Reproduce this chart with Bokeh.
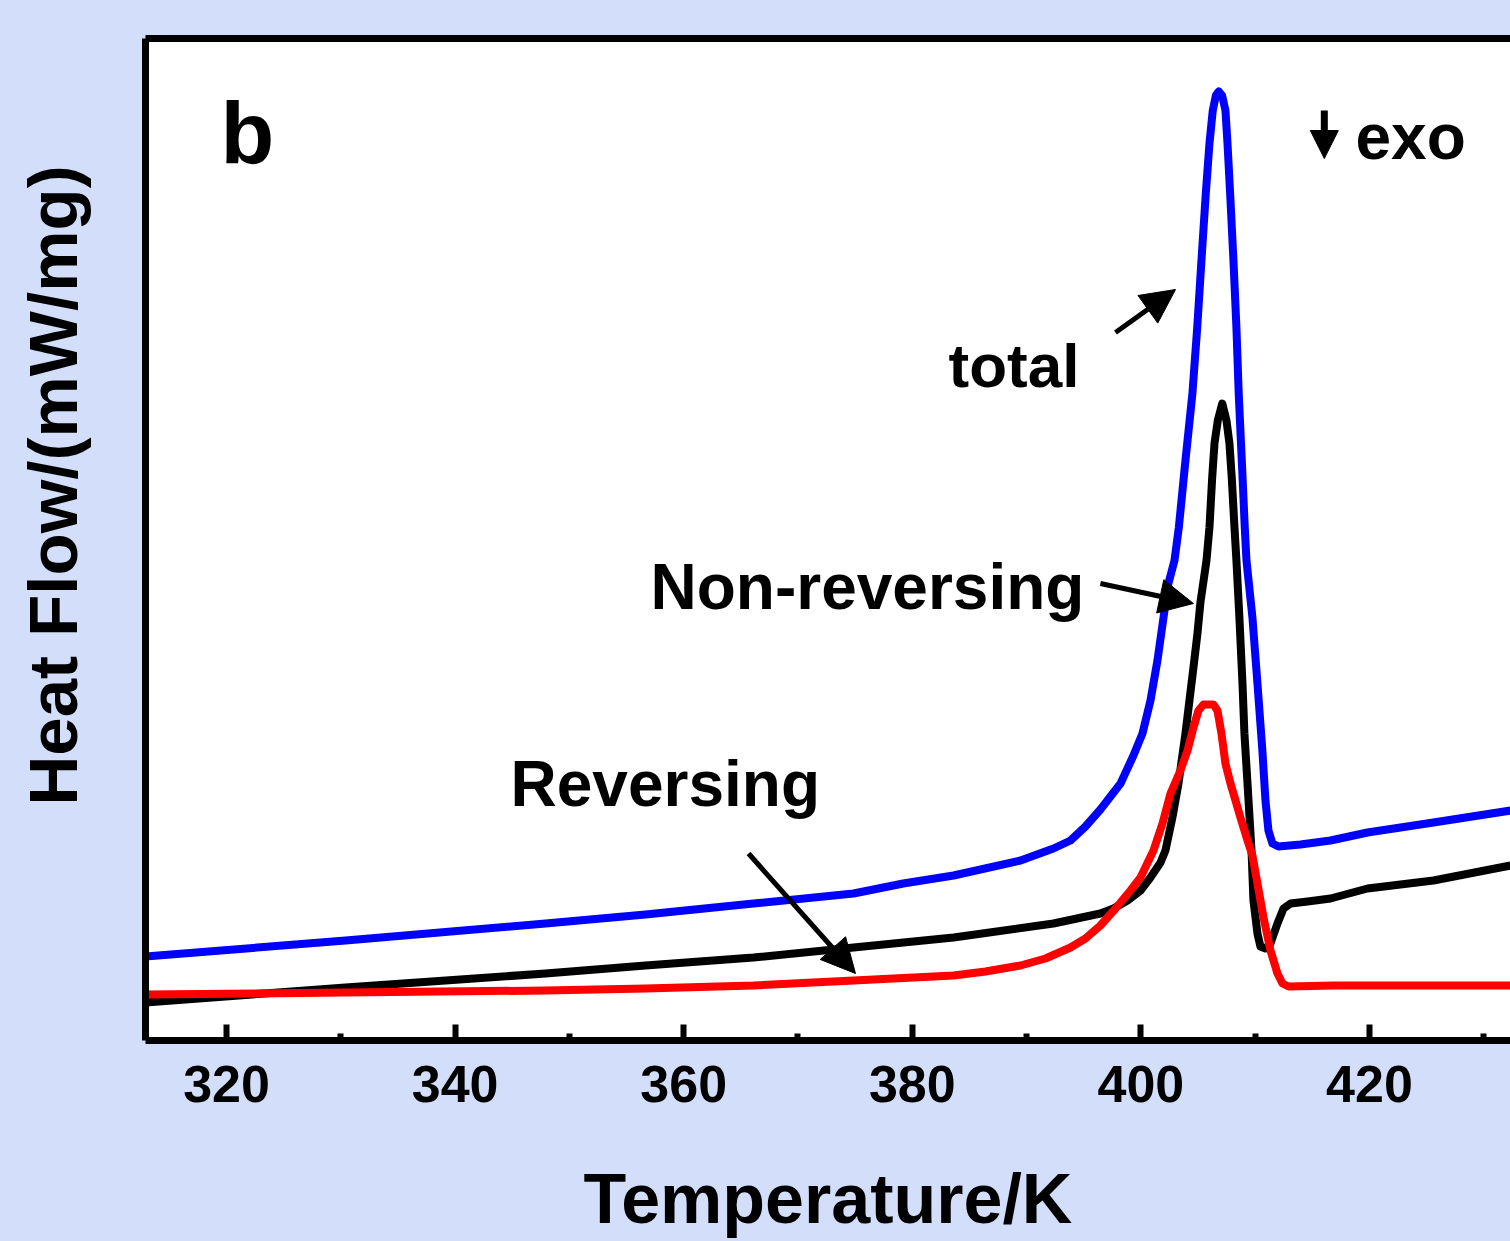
from bokeh.plotting import figure
from bokeh.models import Range1d, LinearAxis, FixedTicker, Label, Arrow, NormalHead, Title
from bokeh.embed import file_html
from bokeh.resources import INLINE

# ---- data (temperature in K, heat flow in arbitrary mW/mg units) ----
total_T = [312.91, 330.41, 347.91, 356.66, 366.11, 374.86, 379.20, 383.61, 389.47,
           392.35, 393.84, 395.15, 396.46, 398.22, 399.35, 400.14, 400.84, 401.45,
           401.98, 402.41, 402.94, 403.32, 403.90, 404.51, 404.93, 405.30, 405.68,
           406.00, 406.29, 406.56, 406.82, 407.11, 407.40, 407.58, 407.81, 408.10,
           408.36, 408.56, 408.83, 409.09, 409.24, 409.76, 410.20, 410.63, 410.90,
           411.16, 411.51, 412.04, 413.96, 416.59, 419.83, 425.60, 432.34]
total_HF = [0.84, 1.00, 1.17, 1.26, 1.37, 1.47, 1.57, 1.65, 1.80,
            1.92, 2.00, 2.14, 2.31, 2.57, 2.85, 3.07, 3.40, 3.80,
            4.23, 4.57, 4.80, 5.13, 5.80, 6.47, 7.13, 7.80, 8.47,
            8.97, 9.30, 9.45, 9.49, 9.45, 9.30, 8.97, 8.47, 7.80,
            7.13, 6.47, 5.80, 5.13, 4.80, 4.23, 3.57, 2.90, 2.40,
            2.10, 1.97, 1.94, 1.96, 2.00, 2.08, 2.18, 2.30]

nonrev_T = [312.91, 330.41, 347.91, 356.66, 366.11, 374.86, 383.61, 392.35, 396.46,
            397.60, 398.83, 399.97, 400.84, 401.72, 402.15, 402.76, 403.29, 403.90,
            404.25, 404.60, 404.95, 405.21, 405.74, 406.00, 406.24, 406.44, 406.73,
            407.12, 407.49, 407.75, 407.95, 408.19, 408.36, 408.62, 408.89, 409.06,
            409.33, 409.68, 409.85, 410.20, 410.46, 410.90, 411.34, 411.95, 412.48,
            413.10, 414.59, 416.59, 419.83, 425.60, 432.34]
nonrev_HF = [0.38, 0.53, 0.67, 0.75, 0.83, 0.93, 1.03, 1.17, 1.27,
             1.32, 1.40, 1.50, 1.63, 1.78, 1.90, 2.23, 2.57, 3.07,
             3.40, 3.73, 4.07, 4.38, 4.80, 5.13, 5.63, 5.97, 6.20,
             6.37, 6.20, 5.97, 5.63, 5.13, 4.80, 4.23, 3.57, 3.07,
             2.57, 1.90, 1.40, 1.07, 0.94, 0.92, 0.97, 1.17, 1.32,
             1.37, 1.39, 1.42, 1.52, 1.60, 1.75]

rev_T = [312.91, 330.41, 347.91, 356.66, 366.11, 374.86, 383.61, 386.40, 389.47,
         391.65, 393.84, 395.15, 396.46, 397.78, 399.09, 399.97, 401.10, 401.89,
         402.59, 403.46, 404.08, 404.60, 405.04, 405.48, 406.35, 406.70, 407.05,
         407.40, 407.84, 408.28, 408.71, 409.33, 409.76, 410.20, 410.73, 411.34,
         411.95, 412.39, 412.92, 416.85, 432.34]
rev_HF = [0.46, 0.48, 0.50, 0.52, 0.55, 0.60, 0.65, 0.69, 0.75,
          0.82, 0.93, 1.02, 1.15, 1.32, 1.50, 1.63, 1.90, 2.17,
          2.47, 2.70, 2.90, 3.13, 3.30, 3.36, 3.36, 3.30, 3.07,
          2.77, 2.57, 2.40, 2.23, 2.00, 1.85, 1.57, 1.23, 0.90,
          0.67, 0.57, 0.54, 0.55, 0.55]

x_ticks = [320, 340, 360, 380, 400, 420]
x_minor = [330, 350, 370, 390, 410, 430]

BG = "#d2defa"
FONT = "Liberation Sans"

p = figure(width=1510, height=1241, output_backend="svg", toolbar_location=None,
           x_range=Range1d(312.91, 432.34), y_range=Range1d(0, 10.02),
           min_border_left=145, min_border_right=0, min_border_top=38,
           min_border_bottom=201, x_axis_location="below", y_axis_location="left")
p.border_fill_color = BG
p.background_fill_color = "white"
p.outline_line_color = None
p.grid.visible = False

# bottom axis
xa = p.xaxis[0]
xa.ticker = FixedTicker(ticks=x_ticks, minor_ticks=x_minor)
xa.axis_line_width = 7
xa.axis_line_color = "black"
xa.major_tick_in = 16
xa.major_tick_out = 0
xa.minor_tick_in = 7
xa.minor_tick_out = 0
xa.major_tick_line_width = 6
xa.minor_tick_line_width = 6
xa.major_label_text_font = FONT
xa.major_label_text_font_style = "bold"
xa.major_label_text_font_size = "52px"
xa.major_label_text_color = "black"
xa.major_label_standoff = 25
xa.axis_label = "Temperature/K"
xa.axis_label_text_font = FONT
xa.axis_label_text_font_style = "bold"
xa.axis_label_text_font_size = "70px"
xa.axis_label_text_color = "black"
xa.axis_label_standoff = 55

# left axis (frame line only, invisible spacer label pushes the title outward)
ya = p.yaxis[0]
ya.ticker = FixedTicker(ticks=[])
ya.axis_line_width = 7
ya.axis_line_color = "black"
ya.major_tick_line_color = None
ya.minor_tick_line_color = None
ya.major_label_text_font_size = "0px"
ya.axis_label = " "
ya.axis_label_text_font_size = "1px"
ya.axis_label_text_alpha = 0
ya.axis_label_standoff = 45

# y axis title
p.add_layout(Title(text="Heat Flow/(mW/mg)", align="left", offset=235,
                   text_font=FONT, text_font_style="bold", text_font_size="69px",
                   text_color="black", standoff=10), "left")

# top frame line
top = LinearAxis(ticker=FixedTicker(ticks=[]), axis_line_width=7, axis_line_color="black",
                 major_tick_line_color=None, minor_tick_line_color=None,
                 major_label_text_font_size="0px")
p.add_layout(top, "above")

# curves
p.line(total_T, total_HF, line_color="#0000ff", line_width=8, line_join="round")
p.line(nonrev_T, nonrev_HF, line_color="black", line_width=8, line_join="round")
p.line(rev_T, rev_HF, line_color="#ff0000", line_width=8, line_join="round")

def add_text(x, y, t, size):
    p.add_layout(Label(x=x, y=y, text=t, text_align="left", text_baseline="alphabetic",
                       text_font=FONT, text_font_style="bold",
                       text_font_size=size, text_color="black"))

add_text(319.48, 9.08, "b", "88px")
add_text(418.78, 9.04, "exo", "64px")
add_text(383.17, 6.75, "total", "62px")
add_text(357.10, 4.54, "Non-reversing", "64px")
add_text(344.85, 2.57, "Reversing", "64px")

def add_arrow(x0, y0, x1, y1, size=34, lw=5):
    p.add_layout(Arrow(x_start=x0, y_start=y0, x_end=x1, y_end=y1, line_width=lw,
                       line_color="black",
                       end=NormalHead(size=size, fill_color="black", line_color="black",
                                      line_width=1)))

add_arrow(397.78, 7.08, 403.03, 7.51)
add_arrow(396.46, 4.57, 404.60, 4.37)
add_arrow(365.67, 1.87, 375.03, 0.67)
add_arrow(416.05, 9.30, 416.05, 8.82, size=28, lw=7)

TEMPLATE = """
{% block preamble %}
<style>body { background: #d2defa; }</style>
{% endblock %}
"""

open("out.html", "w").write(file_html(p, INLINE, template=TEMPLATE))
